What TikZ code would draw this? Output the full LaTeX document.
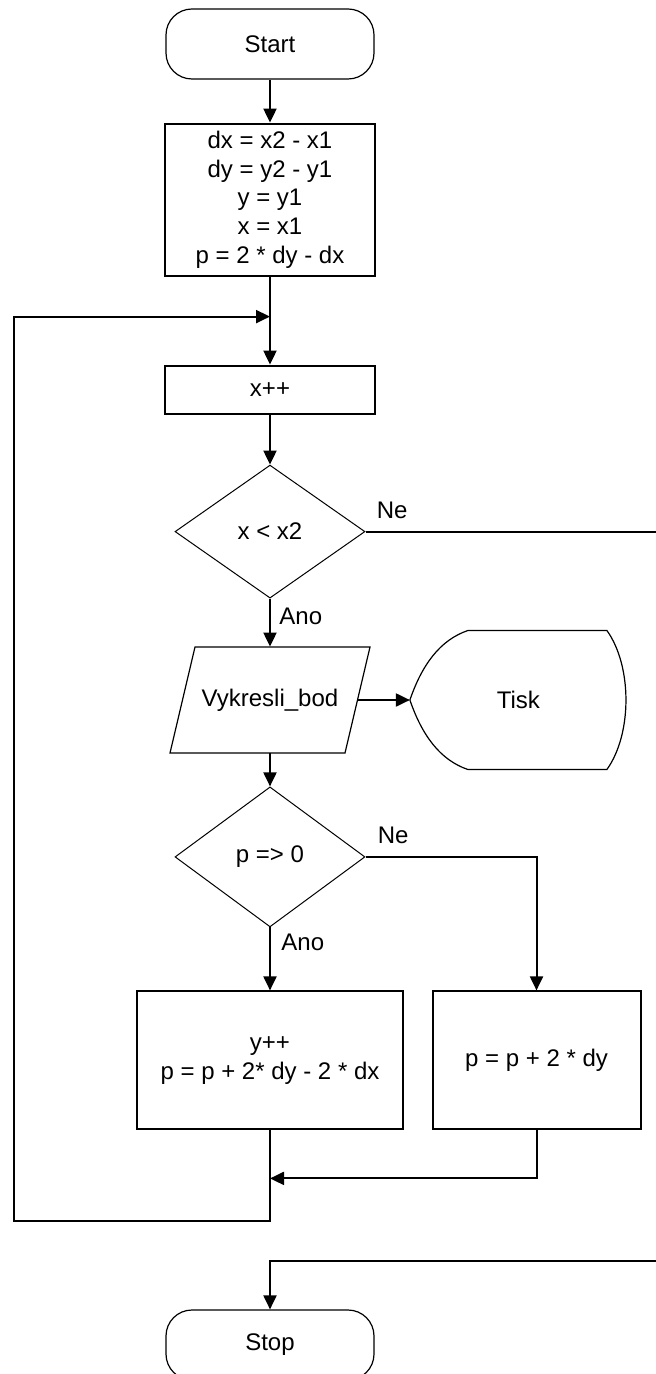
\documentclass[tikz,border=0pt]{standalone}
\usepackage{fontspec}
\setmainfont{Liberation Sans}
\usetikzlibrary{arrows.meta,positioning,shapes.geometric}
\tikzset{
    %Define standard arrow tip
    >={Triangle[length=7pt,width=6.5pt]},
    %Define style for boxes
    proc/.style={
      rectangle,
      draw=black, line width=1pt,
      minimum width=105pt,
      align=center},
    term/.style={
      rectangle,
      rounded corners=13pt,
      draw=black, line width=0.6pt,
      minimum width=104pt,
      minimum height=35pt},
    decision/.style={
      diamond,
      draw=black, line width=0.5pt,
      inner sep=0pt,
      minimum width=95pt,
      minimum height=66.5pt},
    % Define style for the input/output box (outline drawn by hand)
    io/.style={
      rectangle,
      inner sep=0pt,
      minimum width=87.5pt,
      minimum height=53pt},
    outline/.style={draw=black, line width=0.6pt},
    % Define style for branch labels
    lbl/.style={inner sep=0pt},
    % Define arrow style
    arr/.style={
      ->,
      line width=1pt}
}

\begin{document}
\begin{tikzpicture}[font=\fontsize{12}{14.3}\selectfont]
    \useasboundingbox (-135pt,22pt) rectangle (193pt,-665pt);
    \clip (-135pt,22pt) rectangle (193pt,-665pt);

    \node[term] (start) at (0,0) {Start};
    \node[proc, below=21.5pt of start, minimum height=76pt] (init)
      {dx = x2 - x1\\dy = y2 - y1\\y = y1\\x = x1\\p = 2 * dy - dx};
    \node[proc, below=44pt of init, minimum height=24pt] (inc) {x++};
    \node[decision, below=25pt of inc] (cond1) {x < x2};
    \node[io, below=24pt of cond1] (plot) {Vykresli\_bod};
    \node[right=26pt of plot, inner sep=0pt, minimum width=108pt,
      minimum height=69.5pt] (tisk) {Tisk};
    \node[decision, below=16.5pt of plot, minimum height=70pt] (cond2) {p => 0};
    \node[proc, below=31.5pt of cond2, minimum width=132.5pt, minimum height=69pt] (upd1)
      {y++\\p = p + 2* dy - 2 * dx};
    \node[proc, right=14pt of upd1, minimum width=104pt, minimum height=69pt] (upd2)
      {p = p + 2 * dy};
    \node[term, below=89.5pt of upd1] (stop) {Stop};

    % branch labels
    \node[lbl, above right=6pt and 5.5pt of cond1.east] (ne1) {Ne};
    \node[lbl, below right=4.5pt and 4.5pt of cond1.south] (ano1) {Ano};
    \node[lbl, above right=6.5pt and 6pt of cond2.east] (ne2) {Ne};
    \node[lbl, below right=3pt and 5.5pt of cond2.south] (ano2) {Ano};

    % parallelogram
    \draw[outline, shift={(plot.center)}] (-37.5pt,26.5pt) -- (50pt,26.5pt)
      -- (37.5pt,-26.5pt) -- (-50pt,-26.5pt) -- cycle;
    % display symbol
    \draw[outline, shift={(tisk.west)}] (0,0)
      .. controls (6pt,17.5pt) and (15pt,30pt) .. (29pt,34.75pt)
      -- (98.5pt,34.75pt)
      .. controls (111.2pt,17pt) and (111.2pt,-17pt) .. (98.5pt,-34.75pt)
      -- (29pt,-34.75pt)
      .. controls (15pt,-30pt) and (6pt,-17.5pt) .. cycle;

    \coordinate[below=20pt of init.south] (join);
    \coordinate[below=24pt of upd1.south] (merge);
    \coordinate[below=45.5pt of upd1.south] (low);
    \coordinate (back) at (-128pt,0 |- join);
    \coordinate[above=24pt of stop.north] (drop);
    \coordinate (edge) at (205pt,0 |- drop);

    \draw[arr] (start) -- (init);
    \draw[arr] (init) -- (inc);
    \draw[arr] (inc) -- (cond1);
    \draw[arr] (cond1) -- (plot);
    \draw[arr] (plot) -- (tisk.west);
    \draw[arr] (plot) -- (cond2);
    \draw[arr] (cond2) -- (upd1);
    \draw[arr] (cond2.east) -| (upd2.north);
    \draw[arr] (upd2.south) |- (merge);
    \draw[arr] (upd1.south) -- (low) -| (back) |- (join);
    \draw[arr] (cond1.east) -| (edge) -- (drop) -- (stop.north);
\end{tikzpicture}
\end{document}
